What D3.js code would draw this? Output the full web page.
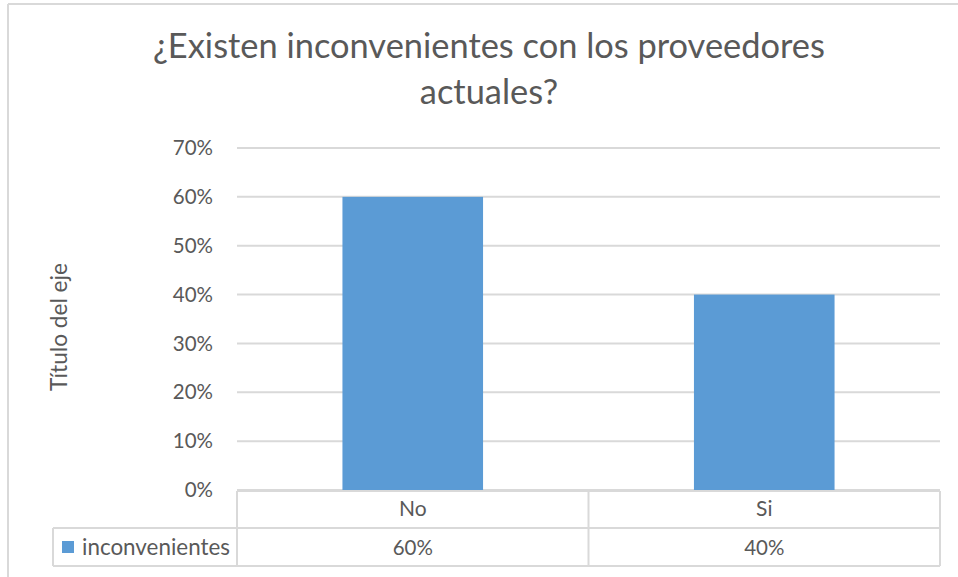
<!DOCTYPE html>
<html>
<head>
<meta charset="utf-8">
<script src="https://cdn.jsdelivr.net/npm/d3@7"></script>
<style>
  html, body { margin: 0; padding: 0; background: #fff; }
  svg { display: block; }
  text { font-family: Lato, "Open Sans", sans-serif; fill: #595959; }
</style>
</head>
<body>
<svg id="chart" width="958" height="577"></svg>
<script>
const titleLines = ["¿Existen inconvenientes con los proveedores", "actuales?"];
const categories = ["No", "Si"];
const seriesName = "inconvenientes";
const values = [0.60, 0.40];
const yTicks = [0, 0.1, 0.2, 0.3, 0.4, 0.5, 0.6, 0.7];
const yAxisTitle = "Título del eje";

const svg = d3.select("#chart");
const W = 958, H = 577;
const plot = { left: 237, right: 940, top: 148, bottom: 490 };
const gridColor = "#d9d9d9";
const barColor = "#5b9bd5";

// scale font so a text spans a given width
function fitWidth(sel, target) {
  const fs = parseFloat(sel.style("font-size"));
  const w = sel.node().getComputedTextLength();
  sel.style("font-size", (fs * target / w).toFixed(2) + "px");
}

// chart border (top and left visible)
svg.append("line").attr("x1", 8).attr("x2", W).attr("y1", 4).attr("y2", 4)
  .attr("stroke", gridColor).attr("stroke-width", 2);
svg.append("line").attr("x1", 8).attr("x2", 8).attr("y1", 4).attr("y2", H)
  .attr("stroke", gridColor).attr("stroke-width", 2);

// title
const title = svg.append("text").attr("text-anchor", "middle").style("font-size", "28px");
titleLines.forEach((t, i) => {
  title.append("tspan").attr("x", 489).attr("y", 58 + i * 46).text(t);
});
{
  const first = title.select("tspan").node();
  const fs = 28, w = first.getComputedTextLength();
  title.style("font-size", (fs * 672 / w).toFixed(2) + "px");
}

const band = d3.scaleBand().domain(categories).range([plot.left, plot.right]);
const y = d3.scaleLinear().domain([0, 0.7]).range([plot.bottom, plot.top]);

// gridlines
svg.append("g").selectAll("line").data(yTicks).join("line")
  .attr("x1", plot.left).attr("x2", plot.right)
  .attr("y1", d => y(d)).attr("y2", d => y(d))
  .attr("stroke", gridColor).attr("stroke-width", 2);

// y tick labels
svg.append("g").selectAll("text").data(yTicks).join("text")
  .attr("x", 213).attr("y", d => y(d)).attr("dy", "0.35em")
  .attr("text-anchor", "end").style("font-size", "20.5px")
  .text(d3.format(".0%"));

// bars (gap width 150%)
const bw = band.bandwidth() / 2.5;
svg.append("g").selectAll("rect").data(values).join("rect")
  .attr("x", (d, i) => band(categories[i]) + band.bandwidth() / 2 - bw / 2)
  .attr("width", bw)
  .attr("y", d => y(d))
  .attr("height", d => y(0) - y(d))
  .attr("fill", barColor);

// y axis title
const yt = svg.append("text")
  .attr("transform", `translate(67,327) rotate(-90)`)
  .attr("text-anchor", "middle").style("font-size", "20px")
  .text(yAxisTitle);
fitWidth(yt, 128);

// data table
const t = svg.append("g");
const top0 = plot.bottom + 1, mid = top0 + 37, bot = mid + 38;
const legLeft = 53;
const tl = (x1, y1, x2, y2) => t.append("line").attr("x1", x1).attr("y1", y1).attr("x2", x2).attr("y2", y2)
  .attr("stroke", gridColor).attr("stroke-width", 2);
tl(plot.left, top0, plot.right, top0);
tl(legLeft, mid, plot.right, mid);
tl(legLeft, bot, plot.right, bot);
tl(legLeft, mid, legLeft, bot);
tl(plot.left, top0, plot.left, bot);
categories.forEach((c) => {
  tl(band(c) + band.bandwidth(), top0, band(c) + band.bandwidth(), bot);
});

t.selectAll("text.cat").data(categories).join("text").attr("class", "cat")
  .attr("x", d => band(d) + band.bandwidth() / 2).attr("y", 516)
  .attr("text-anchor", "middle").style("font-size", "21px").text(d => d);
t.selectAll("text.val").data(values).join("text").attr("class", "val")
  .attr("x", (d, i) => band(categories[i]) + band.bandwidth() / 2).attr("y", 555)
  .attr("text-anchor", "middle").style("font-size", "20.5px").text(d3.format(".0%"));

t.append("rect").attr("x", 62).attr("y", 541).attr("width", 12).attr("height", 12).attr("fill", barColor);
const leg = t.append("text").attr("x", 82).attr("y", 555).style("font-size", "20px").text(seriesName);
fitWidth(leg, 148);
</script>
</body>
</html>
